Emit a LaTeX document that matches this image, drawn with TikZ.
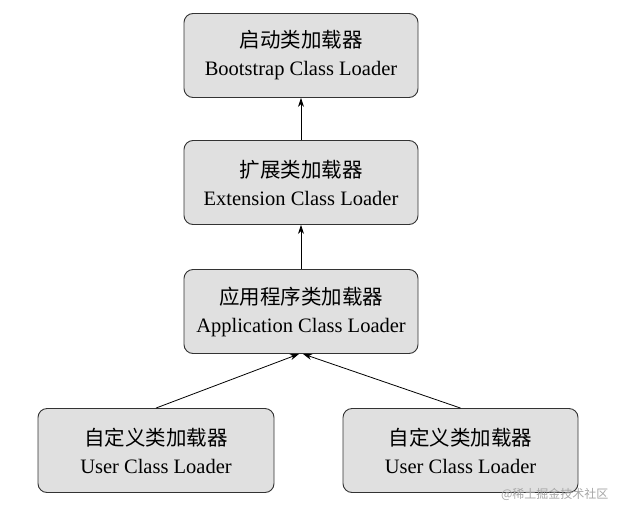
\documentclass[tikz,border=0pt]{standalone}
\usepackage{fontspec}
\setmainfont{Liberation Serif}
\newfontfamily\cjk{Noto Sans CJK SC}
\usetikzlibrary{arrows.meta}
\begin{document}
\begin{tikzpicture}[x=1pt,y=-1pt,
  box/.style={draw=black!80,line width=0.9pt,fill=black!12,rounded corners=9pt,minimum width=234pt,minimum height=84pt,align=center,font=\fontsize{20.5}{28}\selectfont},
  arr/.style={-{Stealth[length=9pt,width=6pt]},line width=0.8pt}]
\useasboundingbox (0,0) rectangle (620,514);
\node[box] (b) at (301,55.5) {{\cjk 启动类加载器}\\Bootstrap Class Loader};
\node[box] (e) at (301,182.5) {{\cjk 扩展类加载器}\\Extension Class Loader};
\node[box] (a) at (301,311.5) {{\cjk 应用程序类加载器}\\Application Class Loader};
\node[box,minimum width=236pt] (u1) at (156,450.5) {{\cjk 自定义类加载器}\\User Class Loader};
\node[box,minimum width=235pt] (u2) at (460.5,450.5) {{\cjk 自定义类加载器}\\User Class Loader};
\draw[arr] (e.north) -- (b.south);
\draw[arr] (a.north) -- (e.south);
\draw[arr] (u1.north) -- ([xshift=-2pt]a.south);
\draw[arr] (u2.north) -- ([xshift=2pt]a.south);
\node[font=\cjk\fontsize{12}{12}\selectfont,text=black!35,anchor=east] (w) at (612,494) {@稀土掘金技术社区};
\end{tikzpicture}
\end{document}
